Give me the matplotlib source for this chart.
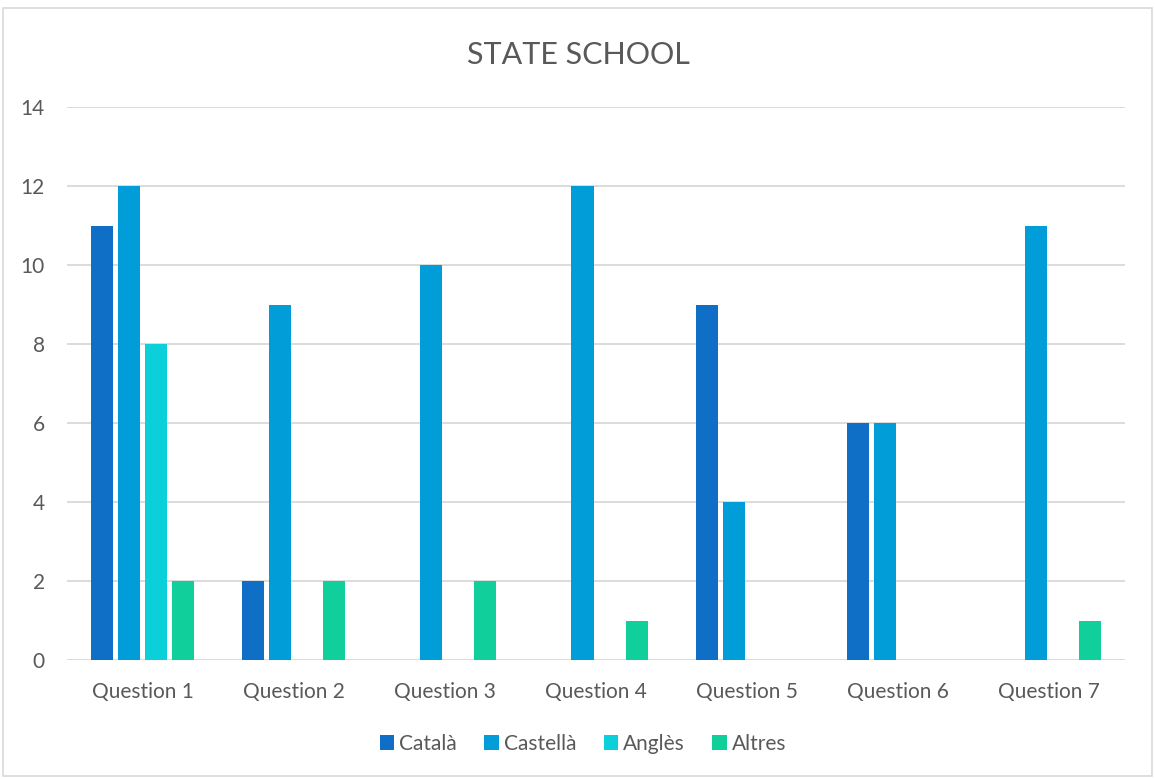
import matplotlib
matplotlib.use("Agg")
import matplotlib.pyplot as plt
from matplotlib.patches import Rectangle
import numpy as np

categories = ["Question 1", "Question 2", "Question 3", "Question 4",
              "Question 5", "Question 6", "Question 7"]
catala = [11, 2, 0, 0, 9, 6, 0]
castella = [12, 9, 10, 12, 4, 6, 11]
angles = [8, 0, 0, 0, 0, 0, 0]
altres = [2, 2, 2, 1, 0, 0, 1]
series_names = ["Català", "Castellà", "Anglès", "Altres"]
series_colors = ["#0F6FC6", "#009DD9", "#0BD0D9", "#10CF9B"]
y_ticks = [0, 2, 4, 6, 8, 10, 12, 14]

plt.rcParams['font.family'] = ['Lato', 'DejaVu Sans']
text_color = "#595959"

W, H = 1155, 779
fig = plt.figure(figsize=(W / 100, H / 100), dpi=100)
fig.patch.set_facecolor("white")

# outer chart border
fig.patches.append(Rectangle((3 / W, 3 / H), (W - 6) / W, (H - 11) / H,
                             transform=fig.transFigure, fill=False,
                             edgecolor="#D9D9D9", linewidth=1.2))

ax = fig.add_axes([67 / W, (H - 660) / H, (1125 - 67) / W, (660 - 107) / H])

x = np.arange(len(categories))
slot = 0.179
width = 0.146
all_series = [catala, castella, angles, altres]
for i, (vals, name, col) in enumerate(zip(all_series, series_names, series_colors)):
    ax.bar(x + (i - 1.5) * slot, vals, width=width, color=col, label=name, zorder=3)

ax.set_xlim(-0.5, len(categories) - 0.5)
ax.set_ylim(0, 14)
ax.set_yticks(y_ticks)
ax.set_xticks(x)
ax.set_xticklabels(categories)
for s in ax.spines.values():
    s.set_visible(False)
ax.grid(axis='y', color="#D9D9D9", linewidth=1.3, zorder=0)
ax.tick_params(axis='both', length=0, colors=text_color, labelsize=15)
ax.tick_params(axis='y', pad=16)
ax.tick_params(axis='x', pad=16)

fig.text(578 / W, 1 - 55 / H, "STATE SCHOOL", ha='center', va='center',
         fontsize=22, color=text_color)

leg = fig.legend(loc='center', bbox_to_anchor=(583 / W, 1 - 744 / H), ncol=4,
                 frameon=False, fontsize=15, handlelength=0.7, handleheight=0.7,
                 handletextpad=0.25, columnspacing=1.3)
for t in leg.get_texts():
    t.set_color(text_color)

fig.savefig("out.png", dpi=100, facecolor="white")
